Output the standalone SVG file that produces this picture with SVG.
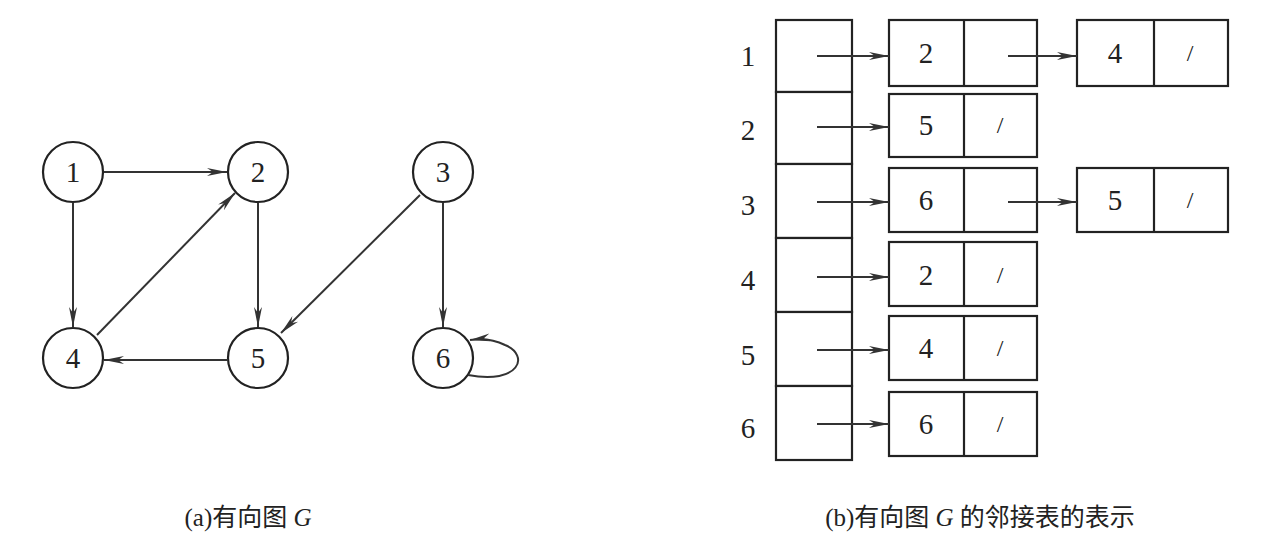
<svg xmlns="http://www.w3.org/2000/svg" width="1278" height="546" viewBox="0 0 1278 546">
<style>
.n{fill:#fff;stroke:#222;stroke-width:2.2}
.b{fill:#fff;stroke:#222;stroke-width:2.2}
.t{font-family:"Liberation Serif",serif;font-size:29px;fill:#222;text-anchor:middle;dominant-baseline:central}
.s{font-family:"Liberation Serif",serif;font-size:24px;fill:#222;text-anchor:middle;dominant-baseline:central}
.c{font-family:"Liberation Serif","Noto Sans CJK SC",serif;font-size:25px;fill:#222;text-anchor:middle}
.e{stroke:#333;stroke-width:2;fill:none;marker-end:url(#a)}
</style>
<defs>
<marker id="a" viewBox="0 0 20 10" refX="20" refY="5" markerWidth="20" markerHeight="10" markerUnits="userSpaceOnUse" orient="auto">
<path d="M0,1 L20,5 L0,9 L6,5 Z" fill="#333"/>
</marker>
</defs>
<rect width="1278" height="546" fill="#fff"/>
<g id="n1"><circle class="n" cx="73" cy="172" r="30"/><text class="t" x="73" y="172">1</text></g>
<g id="n2"><circle class="n" cx="258" cy="172" r="30"/><text class="t" x="258" y="172">2</text></g>
<g id="n3"><circle class="n" cx="443" cy="172" r="30"/><text class="t" x="443" y="172">3</text></g>
<g id="n4"><circle class="n" cx="73" cy="358" r="30"/><text class="t" x="73" y="358">4</text></g>
<g id="n5"><circle class="n" cx="258" cy="358" r="30"/><text class="t" x="258" y="358">5</text></g>
<g id="n6"><circle class="n" cx="443" cy="358" r="30"/><text class="t" x="443" y="358">6</text></g>
<g id="heads">
<rect class="b" x="776" y="20" width="76" height="72"/>
<rect class="b" x="776" y="92" width="76" height="72"/>
<rect class="b" x="776" y="164" width="76" height="74"/>
<rect class="b" x="776" y="238" width="76" height="74"/>
<rect class="b" x="776" y="312" width="76" height="74"/>
<rect class="b" x="776" y="386" width="76" height="74"/>
<text class="t" x="748" y="56">1</text><text class="t" x="748" y="130">2</text><text class="t" x="748" y="205">3</text>
<text class="t" x="748" y="280">4</text><text class="t" x="748" y="355">5</text><text class="t" x="748" y="428">6</text>
</g>
<g id="r1a"><rect class="b" x="889" y="20" width="148" height="66"/><line class="b" x1="964" y1="20" x2="964" y2="86"/><text class="t" x="926" y="53">2</text></g>
<g id="r1b"><rect class="b" x="1077" y="20" width="151" height="66"/><line class="b" x1="1154" y1="20" x2="1154" y2="86"/><text class="t" x="1115" y="53">4</text><text class="s" x="1190" y="53">/</text></g>
<g id="r2"><rect class="b" x="889" y="94" width="148" height="63"/><line class="b" x1="964" y1="94" x2="964" y2="157"/><text class="t" x="926" y="125">5</text><text class="s" x="1000" y="125">/</text></g>
<g id="r3a"><rect class="b" x="889" y="168" width="148" height="64"/><line class="b" x1="964" y1="168" x2="964" y2="232"/><text class="t" x="926" y="200">6</text></g>
<g id="r3b"><rect class="b" x="1077" y="168" width="151" height="64"/><line class="b" x1="1154" y1="168" x2="1154" y2="232"/><text class="t" x="1115" y="200">5</text><text class="s" x="1190" y="200">/</text></g>
<g id="r4"><rect class="b" x="889" y="242" width="148" height="64"/><line class="b" x1="964" y1="242" x2="964" y2="306"/><text class="t" x="926" y="275">2</text><text class="s" x="1000" y="275">/</text></g>
<g id="r5"><rect class="b" x="889" y="316" width="148" height="64"/><line class="b" x1="964" y1="316" x2="964" y2="380"/><text class="t" x="926" y="348">4</text><text class="s" x="1000" y="348">/</text></g>
<g id="r6"><rect class="b" x="889" y="392" width="148" height="64"/><line class="b" x1="964" y1="392" x2="964" y2="456"/><text class="t" x="926" y="424">6</text><text class="s" x="1000" y="424">/</text></g>
<g id="edges">
<line class="e" x1="104" y1="172" x2="227" y2="172"/>
<line class="e" x1="73" y1="203" x2="73" y2="327"/>
<line class="e" x1="97" y1="335" x2="235" y2="193"/>
<line class="e" x1="258" y1="203" x2="258" y2="327"/>
<line class="e" x1="228" y1="360" x2="104" y2="360"/>
<line class="e" x1="420" y1="195" x2="281" y2="333"/>
<line class="e" x1="443" y1="203" x2="443" y2="327"/>
<path class="e" d="M468,375 C520,385 530,355 505,345 C495,340 485,338 470,340"/>
<line class="e" x1="817" y1="56" x2="889" y2="56"/>
<line class="e" x1="817" y1="127" x2="889" y2="127"/>
<line class="e" x1="817" y1="202" x2="889" y2="202"/>
<line class="e" x1="817" y1="277" x2="889" y2="277"/>
<line class="e" x1="817" y1="350" x2="889" y2="350"/>
<line class="e" x1="817" y1="424" x2="889" y2="424"/>
<line class="e" x1="1008" y1="56" x2="1077" y2="56"/>
<line class="e" x1="1008" y1="202" x2="1077" y2="202"/>
</g>
<text class="c" x="248" y="526">(a)有向图 <tspan font-style="italic">G</tspan></text>
<text class="c" x="980" y="526">(b)有向图 <tspan font-style="italic">G</tspan> 的邻接表的表示</text>
</svg>
